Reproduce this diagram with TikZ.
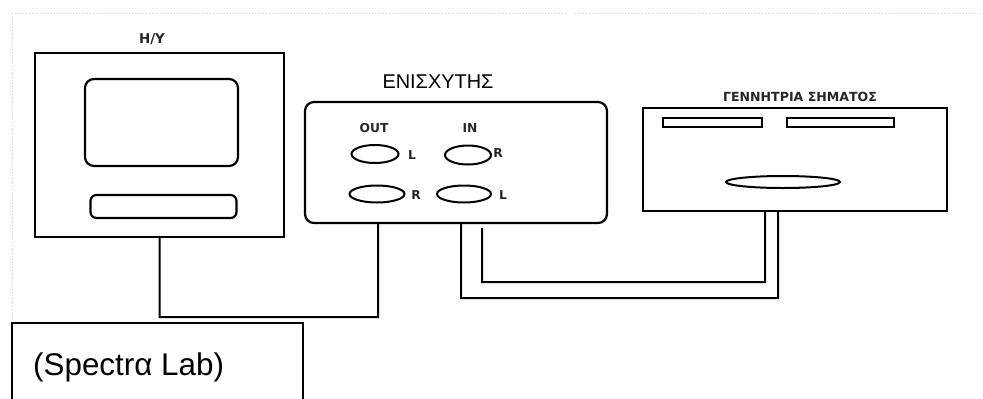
\documentclass[tikz,border=0pt]{standalone}
\usepackage{fontspec}
\setmainfont{Liberation Sans}
\newfontfamily\dvb{DejaVu Sans}
\usetikzlibrary{shapes.geometric,calc}
\tikzset{
  thickbox/.style={draw=black, line width=2.2bp, inner sep=0pt},
  wire/.style={draw=black, line width=2bp},
  jack/.style={ellipse, draw=black, line width=2bp, inner sep=0pt},
  lbl/.style={font=\dvb\bfseries\fontsize{12.3}{12.3}\selectfont, inner sep=0pt, text=black!85},
  guide/.style={draw=gray!35, dotted, line width=0.8bp}
}
\begin{document}
\begin{tikzpicture}[x=1bp,y=-1bp]
\useasboundingbox (0,0) rectangle (983,398);
% faint guide lines
\draw[guide] (12,13) -- (565,13);
\draw[guide] (575,13) -- (983,13);
\draw[guide] (12,13) -- (12,320);
% computer
\node[thickbox, minimum width=249bp, minimum height=184bp] (pc) at (159.5,145) {};
\node[thickbox, rounded corners=9bp, minimum width=153bp, minimum height=87bp] (screen) at (161.5,122.5) {};
\node[thickbox, rounded corners=6bp, minimum width=146bp, minimum height=23bp] (slot) at (163.5,206.5) {};
\node[lbl, font=\dvb\bfseries\fontsize{13.5}{13.5}\selectfont] (pclbl) at (152,39) {H/Y};
% amplifier
\node[thickbox, rounded corners=9bp, minimum width=302bp, minimum height=121bp] (amp) at (456,162.5) {};
\node[inner sep=0pt, font=\fontsize{20}{20}\selectfont] (amplbl) at (438,82) {ΕΝΙΣΧΥΤΗΣ};
\node[lbl] (outlbl) at (374,128) {OUT};
\node[lbl] (inlbl) at (470,128) {IN};
\node[jack, minimum width=47bp, minimum height=18bp] (outL) at (375,154) {};
\node[lbl] (outLl) at (412,155) {L};
\node[jack, minimum width=46bp, minimum height=19bp] (inR) at (468,155) {};
\node[lbl] (inRl) at (498,153) {R};
\node[jack, minimum width=55bp, minimum height=17bp] (outR) at (377,194) {};
\node[lbl] (outRl) at (416,195) {R};
\node[jack, minimum width=54bp, minimum height=17bp] (inL) at (464,194) {};
\node[lbl] (inLl) at (503,195) {L};
% generator
\node[thickbox, minimum width=304bp, minimum height=103bp] (gen) at (795,159.5) {};
\node[lbl, font=\dvb\bfseries\fontsize{12.6}{12.6}\selectfont] (genlbl) at (800,97) {ΓΕΝΝΗΤΡΙΑ ΣΗΜΑΤΟΣ};
\node[draw=black, line width=1.8bp, inner sep=0pt, minimum width=99bp, minimum height=9bp] (gs1) at (712.5,122.5) {};
\node[draw=black, line width=1.8bp, inner sep=0pt, minimum width=107bp, minimum height=9bp] (gs2) at (840.5,122.5) {};
\node[jack, minimum width=114bp, minimum height=12bp] (gknob) at (783,182) {};
% wires
\draw[wire] (pc.south) |- (378,317) -- ([xshift=-78bp]amp.south);
\draw[wire] ([xshift=5bp]amp.south) |- (778,298) -- ([xshift=-17bp]gen.south);
\draw[wire] ([xshift=26bp,yshift=-4bp]amp.south) |- (765,282) -- ([xshift=-30bp]gen.south);
% software box
\draw[draw=black, line width=1.2bp] (12,400) |- (303,323) -- (303,400);
\node[inner sep=0pt, anchor=base west, font=\fontsize{31.5}{31.5}\selectfont] (soft) at (33,375) {(Spectrα Lab)};
\end{tikzpicture}
\end{document}
